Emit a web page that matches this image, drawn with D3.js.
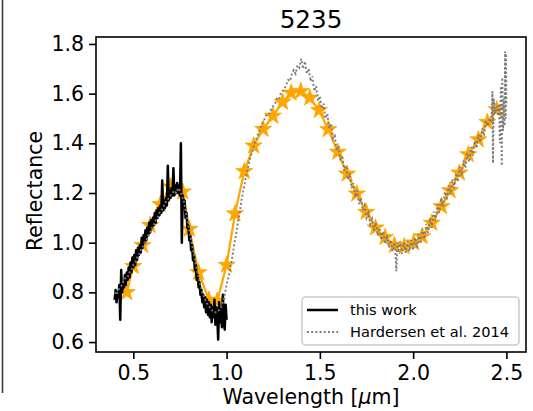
<!DOCTYPE html>
<html>
<head>
<meta charset="utf-8">
<script src="https://cdn.jsdelivr.net/npm/d3@7"></script>
<style>
  html, body { margin: 0; padding: 0; background: #fff; }
  svg { display: block; font-family: "DejaVu Sans", sans-serif; }
</style>
</head>
<body>
<svg id="chart" width="533" height="411"></svg>
<script>
// ---------------- data ----------------
const titleText = "5235";
const xTickValues = [0.5, 1.0, 1.5, 2.0, 2.5];
const yTickValues = [0.6, 0.8, 1.0, 1.2, 1.4, 1.6, 1.8];
const legendLabels = ["this work", "Hardersen et al. 2014"];

// "this work" spectrum (black solid)
const thisWorkWave = [0.400,0.405,0.410,0.415,0.420,0.425,0.430,0.435,0.440,0.445,0.450,0.455,0.460,0.465,0.470,0.475,0.480,0.485,0.490,0.495,
  0.500,0.505,0.510,0.515,0.520,0.525,0.530,0.535,0.540,0.545,0.550,0.555,0.560,0.565,0.570,0.575,0.580,0.585,0.590,0.595,
  0.600,0.605,0.610,0.615,0.620,0.625,0.630,0.635,0.640,0.645,0.650,0.655,0.660,0.665,0.670,0.675,0.680,0.685,0.690,0.695,
  0.700,0.705,0.710,0.715,0.720,0.725,0.730,0.735,0.740,0.745,0.750,0.755,0.760,0.765,0.770,0.775,0.780,0.785,0.790,0.795,
  0.800,0.805,0.810,0.815,0.820,0.825,0.830,0.835,0.840,0.845,0.850,0.855,0.860,0.865,0.870,0.875,0.880,0.885,0.890,0.895,
  0.900,0.905,0.910,0.915,0.920,0.925,0.930,0.935,0.940,0.945,0.950,0.955,0.960,0.965,0.970,0.975,0.980,0.985,0.990,0.995,1.000];
const thisWorkRefl = [0.77,0.81,0.76,0.80,0.78,0.83,0.69,0.89,0.80,0.84,0.82,0.87,0.83,0.88,0.85,0.90,0.86,0.92,0.88,0.94,
  0.90,0.95,0.91,0.97,0.93,0.98,0.95,0.99,0.96,1.02,0.98,1.03,1.00,1.05,1.01,1.06,1.03,1.08,1.04,1.09,
  1.06,1.10,1.07,1.12,1.08,1.13,1.10,1.14,1.11,1.15,1.12,1.25,1.13,1.17,1.14,1.18,1.15,1.31,1.17,1.21,
  1.18,1.22,1.19,1.30,1.19,1.23,1.20,1.24,1.20,1.23,1.19,1.40,1.00,1.19,1.15,1.17,1.10,1.12,1.06,1.07,
  1.01,1.03,0.97,0.99,0.93,0.95,0.89,0.91,0.85,0.87,0.82,0.84,0.79,0.81,0.76,0.79,0.74,0.78,0.72,0.77,
  0.71,0.76,0.70,0.75,0.68,0.74,0.70,0.77,0.67,0.74,0.70,0.61,0.76,0.68,0.74,0.66,0.79,0.70,0.65,0.75,0.69];

// Hardersen et al. 2014 spectrum (gray dotted)
const hardersenWave = [0.40,0.41,0.42,0.43,0.44,0.45,0.46,0.47,0.48,0.49,0.50,0.51,0.52,0.53,0.54,0.55,0.56,0.57,0.58,0.59,
  0.60,0.61,0.62,0.63,0.64,0.65,0.66,0.67,0.68,0.69,0.70,0.71,0.72,0.73,0.74,0.75,0.76,0.77,0.78,0.79,
  0.80,0.81,0.82,0.83,0.84,0.85,0.86,0.87,0.88,0.89,0.90,0.91,0.92,0.93,0.94,0.95,0.96,0.97,0.98,0.99,
  1.00,1.01,1.02,1.03,1.04,1.05,1.06,1.07,1.08,1.09,1.10,1.11,1.12,1.13,1.14,1.15,1.16,1.17,1.18,1.19,
  1.20,1.21,1.22,1.23,1.24,1.25,1.26,1.27,1.28,1.29,1.30,1.31,1.32,1.33,1.34,1.35,1.36,1.37,1.38,1.39,
  1.40,1.41,1.42,1.43,1.44,1.45,1.46,1.47,1.48,1.49,1.50,1.51,1.52,1.53,1.54,1.55,1.56,1.57,1.58,1.59,
  1.60,1.61,1.62,1.63,1.64,1.65,1.66,1.67,1.68,1.69,1.70,1.71,1.72,1.73,1.74,1.75,1.76,1.77,1.78,1.79,
  1.80,1.81,1.82,1.83,1.84,1.85,1.86,1.87,1.88,1.89,1.90,1.905,1.91,1.915,1.92,1.93,1.94,1.95,1.96,1.97,1.98,1.99,
  2.00,2.01,2.02,2.03,2.04,2.05,2.06,2.07,2.08,2.09,2.10,2.11,2.12,2.13,2.14,2.15,2.16,2.17,2.18,2.19,
  2.20,2.21,2.22,2.23,2.24,2.25,2.26,2.27,2.28,2.29,2.30,2.31,2.32,2.33,2.34,2.35,2.36,2.37,2.38,2.39,
  2.40,2.41,2.42,2.425,2.428,2.432,2.44,2.45,2.455,2.46,2.465,2.47,2.475,2.478,2.482,2.486,2.49,2.493,2.496,2.498,2.50];
const hardersenRefl = [0.80,0.79,0.81,0.82,0.83,0.85,0.86,0.86,0.88,0.89,0.91,0.92,0.94,0.95,0.97,0.98,1.00,1.01,1.03,1.04,
  1.06,1.07,1.09,1.10,1.12,1.13,1.14,1.16,1.17,1.18,1.19,1.20,1.21,1.20,1.22,1.21,1.19,1.17,1.13,1.09,
  1.05,1.01,0.97,0.93,0.89,0.86,0.83,0.80,0.78,0.76,0.75,0.74,0.73,0.72,0.72,0.72,0.73,0.74,0.76,0.79,
  0.83,0.86,0.90,0.94,0.99,1.03,1.08,1.12,1.17,1.21,1.25,1.29,1.32,1.35,1.37,1.40,1.42,1.44,1.46,1.48,
  1.49,1.51,1.52,1.52,1.54,1.55,1.56,1.58,1.575,1.60,1.61,1.62,1.635,1.655,1.65,1.68,1.695,1.68,1.715,1.705,
  1.74,1.70,1.73,1.68,1.70,1.65,1.67,1.61,1.63,1.57,1.59,1.54,1.56,1.50,1.52,1.46,1.48,1.42,1.43,1.37,
  1.39,1.33,1.35,1.29,1.31,1.255,1.28,1.22,1.24,1.185,1.21,1.155,1.18,1.13,1.15,1.10,1.12,1.075,1.095,1.05,
  1.08,1.03,1.06,1.01,1.045,0.995,1.03,0.98,1.01,0.965,1.00,0.96,0.885,1.00,0.96,1.005,0.955,1.00,0.96,1.005,0.965,1.01,
  0.97,1.02,0.98,1.035,0.995,1.055,1.015,1.075,1.04,1.10,1.06,1.125,1.09,1.155,1.12,1.18,1.145,1.205,1.17,1.23,
  1.195,1.255,1.22,1.28,1.245,1.305,1.27,1.33,1.30,1.36,1.325,1.385,1.35,1.41,1.38,1.435,1.405,1.46,1.43,1.49,
  1.47,1.50,1.49,1.61,1.32,1.58,1.52,1.55,1.51,1.56,1.40,1.63,1.31,1.665,1.45,1.58,1.47,1.77,1.50,1.76,1.55];

// resampled spectrum (orange stars)
const binnedWave = [0.465,0.50,0.55,0.59,0.645,0.70,0.765,0.80,0.85,0.905,0.95,1.00,1.045,1.095,1.145,1.196,1.248,1.30,1.346,1.398,
  1.446,1.496,1.545,1.596,1.646,1.698,1.748,1.798,1.85,1.90,1.952,2.003,2.048,2.10,2.152,2.198,2.248,2.296,2.35,2.398,2.448];
const binnedRefl = [0.80,0.905,0.99,1.07,1.155,1.225,1.205,1.055,0.88,0.77,0.765,0.91,1.117,1.287,1.39,1.457,1.51,1.566,1.603,1.61,
  1.583,1.533,1.456,1.365,1.277,1.197,1.123,1.06,1.022,0.99,0.984,1.0,1.025,1.079,1.146,1.21,1.281,1.355,1.415,1.485,1.536];

// ---------------- drawing ----------------
const svg = d3.select("#chart");
const plot = { left: 96, right: 526, top: 37, bottom: 352 };

const x = d3.scaleLinear().domain([0.3, 2.605]).range([plot.left, plot.right]);
const y = d3.scaleLinear().domain([0.56, 1.828]).range([plot.bottom, plot.top]);

// stray page border at left
svg.append("line")
  .attr("x1", 2.5).attr("x2", 2.5).attr("y1", 0).attr("y2", 393)
  .attr("stroke", "#333").attr("stroke-width", 1.5);

svg.append("defs").append("clipPath").attr("id", "clip")
  .append("rect").attr("x", plot.left).attr("y", plot.top)
  .attr("width", plot.right - plot.left).attr("height", plot.bottom - plot.top);

const g = svg.append("g").attr("clip-path", "url(#clip)");

const line = d3.line().x(d => x(d[0])).y(d => y(d[1]));
const binned = binnedWave.map((w, i) => [w, binnedRefl[i]]);
const tw = thisWorkWave.map((w, i) => [w, thisWorkRefl[i]]);
const hd = hardersenWave.map((w, i) => [w, hardersenRefl[i]]);

// orange line + stars
g.append("path").datum(binned).attr("d", line)
  .attr("fill", "none").attr("stroke", "#ffa500").attr("stroke-width", 2.2);

function starPath(R) {
  const r = R * 0.381966;
  const pts = [];
  for (let k = 0; k < 10; k++) {
    const a = -Math.PI / 2 + k * Math.PI / 5;
    const rr = k % 2 === 0 ? R : r;
    pts.push([rr * Math.cos(a), rr * Math.sin(a)]);
  }
  return "M" + pts.map(p => p[0].toFixed(2) + "," + p[1].toFixed(2)).join("L") + "Z";
}
const sp = starPath(9);
g.selectAll("path.star").data(binned).enter().append("path")
  .attr("class", "star")
  .attr("d", sp)
  .attr("transform", d => `translate(${x(d[0])},${y(d[1])})`)
  .attr("fill", "#ffa500").attr("stroke", "#ffa500").attr("stroke-width", 0.8)
  .attr("stroke-linejoin", "round");

// this work (black)
g.append("path").datum(tw).attr("d", line)
  .attr("fill", "none").attr("stroke", "#000").attr("stroke-width", 2.5)
  .attr("stroke-linejoin", "round");

// Hardersen (gray dotted)
g.append("path").datum(hd).attr("d", line)
  .attr("fill", "none").attr("stroke", "#7a7a7a").attr("stroke-width", 1.9)
  .attr("stroke-dasharray", "1.9,2.3");

// axes
const fmt = d3.format(".1f");
const xAxis = svg.append("g").attr("transform", `translate(0,${plot.bottom})`)
  .call(d3.axisBottom(x).tickValues(xTickValues).tickFormat(fmt).tickSize(7).tickPadding(6));
const yAxis = svg.append("g").attr("transform", `translate(${plot.left},0)`)
  .call(d3.axisLeft(y).tickValues(yTickValues).tickFormat(fmt).tickSize(7).tickPadding(5));
[xAxis, yAxis].forEach(a => {
  a.select(".domain").remove();
  a.selectAll(".tick line").attr("stroke", "#000").attr("stroke-width", 1.6);
  a.selectAll(".tick text").attr("fill", "#000").style("font-size", "20.5px")
    .style("font-family", "DejaVu Sans, sans-serif");
});

// spines
svg.append("rect")
  .attr("x", plot.left).attr("y", plot.top)
  .attr("width", plot.right - plot.left).attr("height", plot.bottom - plot.top)
  .attr("fill", "none").attr("stroke", "#000").attr("stroke-width", 1.6);

// title & labels
svg.append("text").attr("x", 311).attr("y", 28).attr("text-anchor", "middle")
  .style("font-size", "24.6px").attr("fill", "#000").text(titleText);

const xl = svg.append("text").attr("x", 311).attr("y", 404).attr("text-anchor", "middle")
  .style("font-size", "20.5px").attr("fill", "#000");
xl.append("tspan").text("Wavelength [");
xl.append("tspan").style("font-style", "italic").text("\u03bc");
xl.append("tspan").text("m]");

svg.append("text").attr("transform", "translate(41.5,191) rotate(-90)")
  .attr("text-anchor", "middle").style("font-size", "20.5px").attr("fill", "#000")
  .text("Reflectance");

// legend
const lg = svg.append("g");
lg.append("rect").attr("x", 302).attr("y", 297).attr("width", 217).attr("height", 48)
  .attr("rx", 4).attr("fill", "#fff").attr("fill-opacity", 0.8)
  .attr("stroke", "#cccccc").attr("stroke-width", 1.6);
const legendStyles = [
  { stroke: "#000", width: 2.5, dash: null },
  { stroke: "#7a7a7a", width: 1.9, dash: "1.9,2.3" }
];
legendLabels.forEach((lab, i) => {
  const cy = 310 + i * 22;
  const ln = lg.append("line").attr("x1", 307).attr("x2", 338).attr("y1", cy).attr("y2", cy)
    .attr("stroke", legendStyles[i].stroke).attr("stroke-width", legendStyles[i].width);
  if (legendStyles[i].dash) ln.attr("stroke-dasharray", legendStyles[i].dash);
  lg.append("text").attr("x", 350).attr("y", cy + 5.3)
    .style("font-size", "14.6px").attr("fill", "#000").text(lab);
});
</script>
</body>
</html>
